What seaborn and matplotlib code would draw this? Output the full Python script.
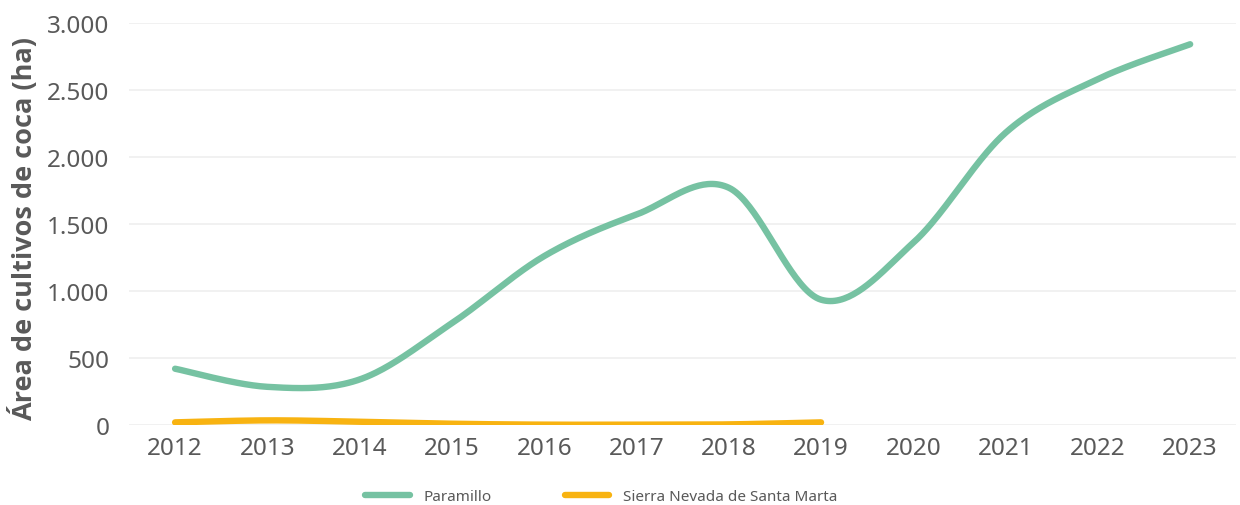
#!/usr/bin/env python3
"""
Área de cultivos de coca (ha) - Paramillo vs Sierra Nevada de Santa Marta
"""

import numpy as np
import pandas as pd
import matplotlib
matplotlib.use('Agg')
import matplotlib.pyplot as plt
import seaborn as sns

# data
years = ['2012', '2013', '2014', '2015', '2016', '2017',
         '2018', '2019', '2020', '2021', '2022', '2023']
paramillo = [420, 285, 340, 760, 1260, 1570, 1770, 935, 1360, 2180, 2580, 2840]
sierra = [20, 35, 25, 10, 3, 3, 5, 20]  # 2012-2019

series_names = ['Paramillo', 'Sierra Nevada de Santa Marta']
colors = ['#76C2A2', '#F8B311']
text_color = '#595959'

sns.set_theme(style='white')
plt.rcParams['font.family'] = ['Noto Sans', 'DejaVu Sans']


def smooth_line(values, n=40):
    """Excel-like smoothed line: cubic Bezier through the points."""
    y = np.asarray(values, dtype=float)
    x = np.arange(len(y), dtype=float)
    pts = np.column_stack([x, y])
    out = []
    for i in range(len(pts) - 1):
        p0 = pts[max(i - 1, 0)]
        p1 = pts[i]
        p2 = pts[i + 1]
        p3 = pts[min(i + 2, len(pts) - 1)]
        c1 = p1 + (p2 - p0) / 6.0
        c2 = p2 - (p3 - p1) / 6.0
        t = np.linspace(0, 1, n, endpoint=(i == len(pts) - 2))[:, None]
        seg = ((1 - t) ** 3) * p1 + 3 * ((1 - t) ** 2) * t * c1 \
            + 3 * (1 - t) * t ** 2 * c2 + t ** 3 * p2
        out.append(seg)
    out = np.vstack(out)
    return pd.DataFrame({'x': out[:, 0], 'y': out[:, 1]})


fig, ax = plt.subplots(figsize=(12.4, 5.06), dpi=100)
fig.subplots_adjust(left=0.104, right=0.997, top=0.953, bottom=0.158)

for vals, name, col in zip([paramillo, sierra], series_names, colors):
    df = smooth_line(vals)
    sns.lineplot(data=df, x='x', y='y', sort=False, color=col, linewidth=4.6,
                 label=name, ax=ax, solid_capstyle='round')

ax.set_xlim(-0.5, len(years) - 0.5)
ax.set_ylim(0, 3000)
ax.set_xticks(range(len(years)))
ax.set_xticklabels(years)
yt = np.arange(0, 3001, 500)
ax.set_yticks(yt)
ax.set_yticklabels([f'{v:,.0f}'.replace(',', '.') for v in yt])
ax.tick_params(axis='both', colors=text_color, labelsize=17.5, length=0)
ax.tick_params(axis='x', pad=8)
ax.tick_params(axis='y', pad=14)

ax.grid(axis='y', color='#EFEFEF', linewidth=1.2)
ax.grid(axis='x', visible=False)
ax.set_axisbelow(True)
for s in ax.spines.values():
    s.set_visible(False)

ax.set_xlabel('')
ax.set_ylabel('Área de cultivos de coca (ha)', fontsize=19.5, fontweight='bold',
              color=text_color, family=['Open Sans', 'DejaVu Sans'])
ax.yaxis.set_label_coords(-0.082, 0.49)

ax.get_legend().remove()
handles, labels = ax.get_legend_handles_labels()
leg = fig.legend(handles, labels, loc='lower center', ncol=2, frameon=False,
                 bbox_to_anchor=(0.485, -0.025), fontsize=11, handlelength=2.9,
                 columnspacing=4.8, handletextpad=0.9)
for t in leg.get_texts():
    t.set_color(text_color)

plt.savefig('out.png', dpi=100)
